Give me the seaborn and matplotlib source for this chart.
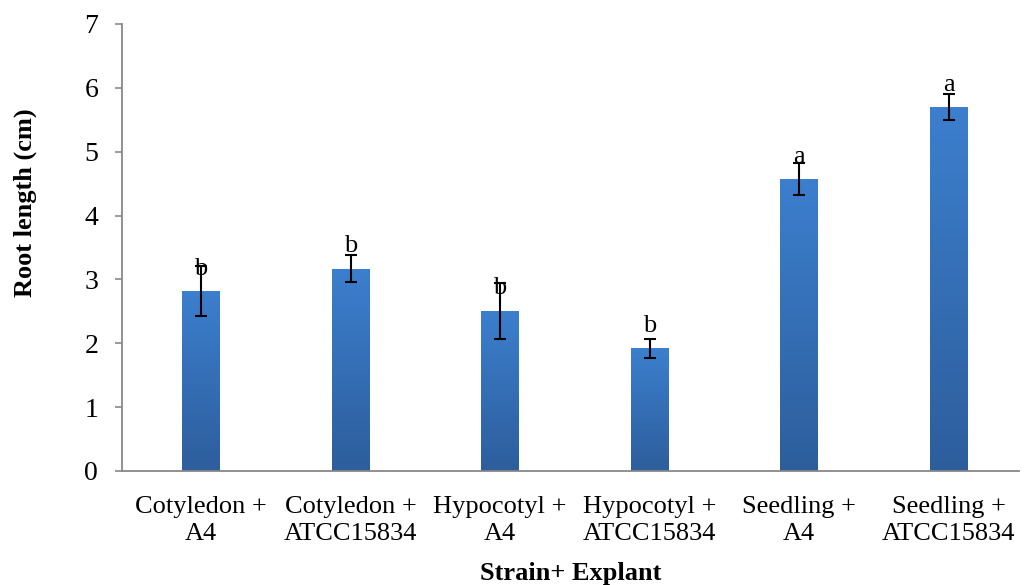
import numpy as np
import pandas as pd
import matplotlib
matplotlib.use("Agg")
import matplotlib.pyplot as plt
import seaborn as sns
from matplotlib.colors import LinearSegmentedColormap

categories = ["Cotyledon +\nA4", "Cotyledon +\nATCC15834", "Hypocotyl +\nA4",
              "Hypocotyl +\nATCC15834", "Seedling +\nA4", "Seedling +\nATCC15834"]
values = [2.82, 3.17, 2.51, 1.92, 4.57, 5.70]
errors = [0.39, 0.21, 0.44, 0.15, 0.25, 0.20]
letters = ["b", "b", "b", "b", "a", "a"]

sns.set_theme(style="white")
plt.rcParams['font.family'] = ['Liberation Serif', 'DejaVu Serif']

fig = plt.figure(figsize=(10.24, 5.85), dpi=100)
ax = fig.add_axes([0.119, 0.195, 0.876, 0.764])

df = pd.DataFrame({"cat": categories, "val": values})
sns.barplot(data=df, x="cat", y="val", color="#3A7DCB", width=0.25, ax=ax,
            errorbar=None, saturation=1)

cmap = LinearSegmentedColormap.from_list("g", ["#2D5E9C", "#3C7FCE"])
grad = np.linspace(0, 1, 256).reshape(-1, 1)
for p in ax.patches:
    x0, y0 = p.get_x(), p.get_y()
    w, h = p.get_width(), p.get_height()
    im = ax.imshow(grad, extent=[x0, x0 + w, y0, y0 + h], origin="lower",
                   cmap=cmap, aspect="auto", zorder=p.get_zorder())
    im.set_clip_path(p)
    p.set_facecolor("none")
    p.set_edgecolor("none")

xs = np.arange(len(categories))
ax.errorbar(xs, values, yerr=errors, fmt="none", ecolor="black",
            elinewidth=1.5, capsize=4.5, capthick=1.5, zorder=5)

for x, v, l in zip(xs, values, letters):
    ax.annotate(l, (x, v), xytext=(0, 16), textcoords="offset points",
                ha="center", va="center", fontsize=19, color="black", zorder=6)

ax.set_xlim(-0.53, 5.47)
ax.set_ylim(0, 7)
ax.set_yticks(range(0, 8))
ax.set_xticks(xs)
ax.set_xticklabels(categories, linespacing=1.32)
ax.tick_params(axis="y", labelsize=20, length=5, width=1.2, color="#888888",
               direction="out", left=True, pad=12, labelcolor="black")
ax.tick_params(axis="x", labelsize=19, length=0, pad=18, labelcolor="black")
for s in ["top", "right"]:
    ax.spines[s].set_visible(False)
for s in ["left", "bottom"]:
    ax.spines[s].set_color("#888888")
    ax.spines[s].set_linewidth(1.3)

ax.set_xlabel("Strain+ Explant", fontsize=19, fontweight="bold", labelpad=12,
              color="black")
ax.set_ylabel("Root length (cm)", fontsize=19, fontweight="bold", color="black")
ax.yaxis.set_label_coords(-0.095, 0.60)

fig.canvas.draw()
for lab in ax.get_xticklabels():
    lab.set_linespacing(1.32)

fig.savefig("out.png", dpi=100)
